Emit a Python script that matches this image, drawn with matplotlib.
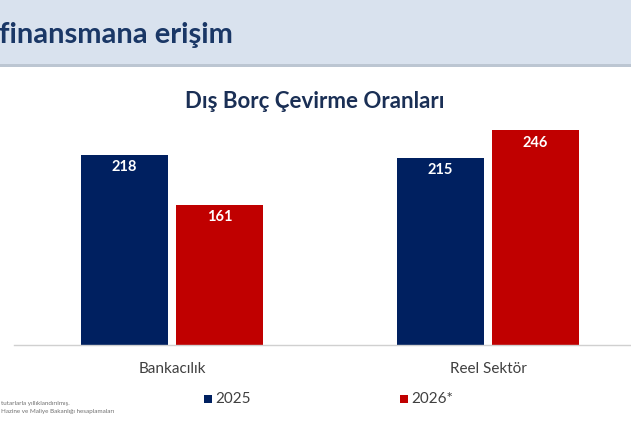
import numpy as np
import matplotlib
matplotlib.use('Agg')
import matplotlib.pyplot as plt
from matplotlib.patches import Rectangle

# veriler
kategoriler = ['Bankacılık', 'Reel Sektör']
seri_adlari = ['2025', '2026*']
degerler_2025 = [218, 215]
degerler_2026 = [161, 246]

mavi = '#002060'
kirmizi = '#C00000'

plt.rcParams['font.family'] = ['Lato', 'DejaVu Sans']

fig = plt.figure(figsize=(6.31, 4.21), dpi=100)
W, H = 631, 421

# ust baslik bandi
fig.patches.append(Rectangle((0, 1 - 65 / H), 1, 65 / H, transform=fig.transFigure,
                             facecolor='#d9e2ee', edgecolor='none', zorder=0))
fig.patches.append(Rectangle((0, 1 - 67 / H), 1, 2.5 / H, transform=fig.transFigure,
                             facecolor='#bcc6d2', edgecolor='none', zorder=0))
fig.text(-1 / W, 1 - 35 / H, 'finansmana erişim', fontsize=21, fontweight='bold',
         color='#1a3766', ha='left', va='center')

fig.text(315 / W, 1 - 101 / H, 'Dış Borç Çevirme Oranları', fontsize=16,
         fontweight='bold', color='#1a2f55', ha='center', va='center')

# grafik alani
ax = fig.add_axes([14 / W, 1 - 345 / H, 632 / W, 240 / H])
x = np.arange(len(kategoriler))
gen = 0.275
b1 = ax.bar(x - 0.15, degerler_2025, gen, color=mavi, zorder=2)
b2 = ax.bar(x + 0.15, degerler_2026, gen, color=kirmizi, zorder=2)
ax.set_xlim(-0.5, 1.5)
ax.set_ylim(0, 240 / 0.872)

for bars in (b1, b2):
    for b in bars:
        ax.text(b.get_x() + b.get_width() / 2, b.get_height() - 14, str(int(b.get_height())),
                ha='center', va='center', color='white', fontsize=10.5, fontweight='bold')

for s in ['top', 'right', 'left']:
    ax.spines[s].set_visible(False)
ax.spines['bottom'].set_color('#d0d0d0')
ax.spines['bottom'].set_linewidth(1)
ax.set_yticks([])
ax.set_xticks(x)
ax.set_xticklabels(kategoriler, fontsize=11, color='#404040')
ax.tick_params(axis='x', length=0, pad=12)

# lejant
for px, renk, ad in [(208, mavi, seri_adlari[0]), (404, kirmizi, seri_adlari[1])]:
    fig.patches.append(Rectangle((px / W - 4 / W, 1 - 403 / H), 8 / W, 8 / H,
                                 transform=fig.transFigure, facecolor=renk, edgecolor='none'))
    fig.text(px / W + 7 / W, 1 - 399 / H, ad, fontsize=11, color='#404040',
             ha='left', va='center')

# dipnot
fig.text(1 / W, 1 - 403 / H, 'tutarlarla yıllıklandırılmış.', fontsize=4.5,
         color='#707070', ha='left', va='center')
fig.text(1 / W, 1 - 412 / H, 'Hazine ve Maliye Bakanlığı hesaplamaları', fontsize=4.5,
         color='#707070', ha='left', va='center')

fig.savefig('out.png', dpi=100)
